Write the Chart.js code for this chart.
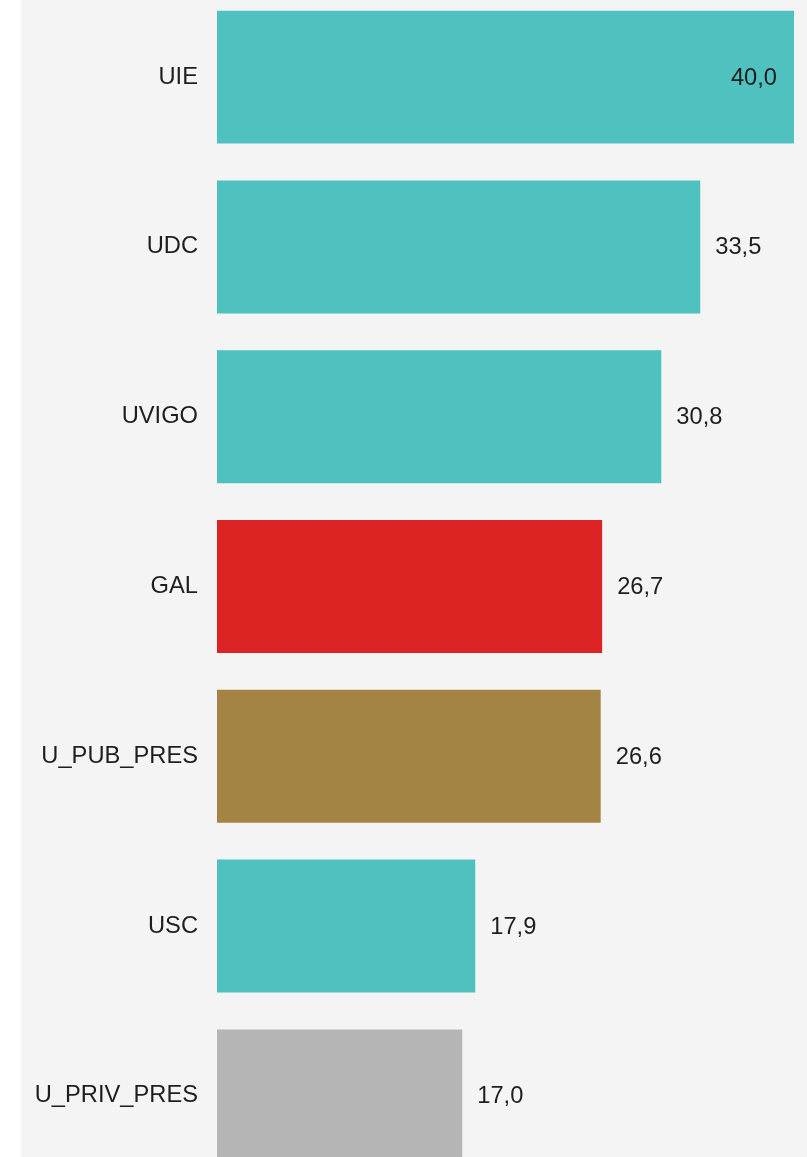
<!DOCTYPE html>
<html>
<head>
<meta charset="utf-8">
<script src="https://cdn.jsdelivr.net/npm/chart.js@4.4.1/dist/chart.umd.min.js"></script>
<style>
  html, body { margin: 0; padding: 0; background: #ffffff; overflow: hidden; }
  #panel {
    position: absolute; left: 21px; top: 0; width: 786px; height: 1157px;
    background: #f4f4f4; overflow: hidden;
  }
  /* the y axis reserves ~25px above and below for label half-heights + padding */
  #barChart { position: absolute; left: 0; top: -33px; }
</style>
</head>
<body>
<div id="panel">
  <canvas id="barChart" width="786" height="1239"></canvas>
</div>
<script>
// ---- data ----
const categories = ['UIE', 'UDC', 'UVIGO', 'GAL', 'U_PUB_PRES', 'USC', 'U_PRIV_PRES'];
const values     = [40.0, 33.5, 30.8, 26.7, 26.6, 17.9, 17.0];

const teal  = '#4fc1be';
const red   = '#dc2323';
const brown = '#a38445';
const grey  = '#b5b5b5';
const barColors = [teal, teal, teal, red, brown, teal, grey];

const fmt = v => v.toFixed(1).replace('.', ',');

// value labels next to (or inside, for the longest) each bar
const valueLabels = {
  id: 'valueLabels',
  afterDatasetsDraw(chart) {
    const ctx = chart.ctx;
    const meta = chart.getDatasetMeta(0);
    const right = chart.chartArea.right;
    ctx.save();
    ctx.font = '23.7px "Liberation Sans", Arial, sans-serif';
    ctx.fillStyle = '#1e1e1e';
    ctx.textBaseline = 'middle';
    meta.data.forEach((bar, i) => {
      const txt = fmt(values[i]);
      const w = ctx.measureText(txt).width;
      if (bar.x + 15 + w > right) {
        ctx.textAlign = 'right';
        ctx.fillText(txt, bar.x - 17, bar.y + 1);
      } else {
        ctx.textAlign = 'left';
        ctx.fillText(txt, bar.x + 15, bar.y + 1);
      }
    });
    ctx.restore();
  }
};

new Chart(document.getElementById('barChart'), {
  type: 'bar',
  data: {
    labels: categories,
    datasets: [{
      data: values,
      backgroundColor: barColors,
      borderWidth: 0,
      categoryPercentage: 1,
      barPercentage: 0.783
    }]
  },
  options: {
    indexAxis: 'y',
    responsive: false,
    animation: false,
    layout: { padding: { left: 0, right: 13, top: 0, bottom: 0 } },
    plugins: {
      legend: { display: false },
      tooltip: { enabled: false }
    },
    scales: {
      x: { display: false, min: 0, max: 40 },
      y: {
        grid: { display: false },
        border: { display: false },
        afterFit: s => { s.width = 196; },
        ticks: {
          padding: 11,
          color: '#1e1e1e',
          font: { family: '"Liberation Sans", Arial, sans-serif', size: 23.7 }
        }
      }
    }
  },
  plugins: [valueLabels]
});
</script>
</body>
</html>
